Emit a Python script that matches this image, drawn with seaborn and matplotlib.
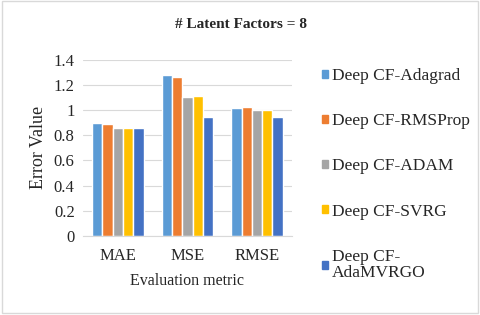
import matplotlib
matplotlib.use("Agg")
import matplotlib.pyplot as plt
import seaborn as sns
import pandas as pd
from matplotlib.patches import Rectangle

metrics = ["MAE", "MSE", "RMSE"]
methods = ["Deep CF-Adagrad", "Deep CF-RMSProp", "Deep CF-ADAM",
           "Deep CF-SVRG", "Deep CF-AdaMVRGO"]
adagrad = [0.895, 1.277, 1.019]
rmsprop = [0.887, 1.266, 1.022]
adam = [0.862, 1.104, 1.003]
svrg = [0.862, 1.113, 1.003]
adamvrgo = [0.855, 0.948, 0.943]
colors = ["#5B9BD5", "#ED7D31", "#A5A5A5", "#FFC000", "#4472C4"]

rows = []
for name, vals in zip(methods, [adagrad, rmsprop, adam, svrg, adamvrgo]):
    for m, v in zip(metrics, vals):
        rows.append({"metric": m, "method": name, "value": v})
df = pd.DataFrame(rows)

sns.set_style("white")
plt.rcParams["font.family"] = ["Liberation Serif", "DejaVu Serif"]

fig = plt.figure(figsize=(4.8, 3.15), dpi=100)
ax = fig.add_axes([0.173, 0.251, 0.435, 0.559])
sns.barplot(data=df, x="metric", y="value", hue="method", palette=colors,
            width=0.74, gap=0, saturation=1, ax=ax, legend=False)

ax.set_ylim(0, 1.4)
ax.set_yticks([0, 0.2, 0.4, 0.6, 0.8, 1, 1.2, 1.4])
ax.set_yticklabels(["0", "0.2", "0.4", "0.6", "0.8", "1", "1.2", "1.4"])
ax.yaxis.grid(True, color="#D9D9D9", linewidth=0.8)
ax.set_axisbelow(True)
for s in ["top", "right", "left"]:
    ax.spines[s].set_visible(False)
ax.spines["bottom"].set_color("#D9D9D9")
ax.tick_params(axis="both", length=0, labelsize=12)
ax.tick_params(axis="y", pad=6)
ax.tick_params(axis="x", pad=9)
ax.set_xlabel("Evaluation metric", fontsize=11.5, labelpad=6)
ax.set_ylabel("Error Value", fontsize=13, labelpad=5)

fig.text(0.502, 0.921, "# Latent Factors = 8", ha="center", va="center",
         fontsize=11, fontweight="bold")

handles = [Rectangle((0, 0), 1, 1, color=c) for c in colors]
labels = methods[:-1] + ["Deep CF-\nAdaMVRGO"]
leg = fig.legend(handles, labels, loc="upper left", bbox_to_anchor=(0.656, 0.806),
                 frameon=False, fontsize=12.5, handlelength=0.35, handleheight=0.35,
                 handletextpad=0.25, labelspacing=1.68, borderaxespad=0)
leg.get_texts()[-1].set_linespacing(1.05)

fig.patches.append(Rectangle((0.004, 0.006), 0.992, 0.99, transform=fig.transFigure,
                             fill=False, edgecolor="#D9D9D9", linewidth=1))
fig.savefig("out.png", dpi=100)
